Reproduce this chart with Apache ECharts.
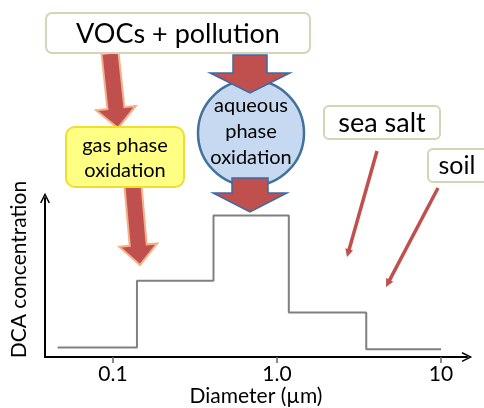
<!DOCTYPE html>
<html>
<head>
<meta charset="utf-8">
<script src="https://cdn.jsdelivr.net/npm/echarts@6/dist/echarts.min.js"></script>
<style>html,body{margin:0;padding:0;background:#fff}#c{width:484px;height:408px}</style>
</head>
<body>
<div id="c"></div>
<script>
// ---- data ----
var binEdges = [0.046, 0.14, 0.41, 1.18, 3.5, 10];      // particle diameter bin edges (µm)
var dcaConc  = [6, 48, 89, 28, 5];                       // relative DCA concentration per bin
var tickValues = [0.1, 1, 10];
var tickLabels = ['0.1', '1.0', '10'];
var xAxisTitle = 'Diameter (\u00b5m)';
var yAxisTitle = 'DCA concentration';
var labelTop = 'VOCs + pollution';
var labelGas = 'gas phase\noxidation';
var labelAq = 'aqueous\nphase\noxidation';
var labelSea = 'sea salt';
var labelSoil = 'soil';

// build step data
var stepData = [];
for (var i = 0; i < dcaConc.length; i++) stepData.push([binEdges[i], dcaConc[i]]);
stepData.push([binEdges[binEdges.length - 1], dcaConc[dcaConc.length - 1]]);

var FONT = 'Lato, "Open Sans", sans-serif';
var RED = '#c0504d';
var CHEVRON = 'path://M0,10 L5,0 L10,10 L8.6,10.6 L5,3.2 L1.4,10.6 Z';

function blockArrow(x1, y1, x2, y2, w, hw, hl, stroke, lw) {
  var dx = x2 - x1, dy = y2 - y1, L = Math.sqrt(dx*dx + dy*dy);
  var ux = dx / L, uy = dy / L, nx = -uy, ny = ux;
  var bx = x2 - ux * hl, by = y2 - uy * hl;
  var pts = [
    [x1 + nx*w/2, y1 + ny*w/2],
    [bx + nx*w/2, by + ny*w/2],
    [bx + nx*hw/2, by + ny*hw/2],
    [x2, y2],
    [bx - nx*hw/2, by - ny*hw/2],
    [bx - nx*w/2, by - ny*w/2],
    [x1 - nx*w/2, y1 - ny*w/2]
  ];
  return { type: 'polygon', shape: { points: pts }, style: { fill: RED, stroke: stroke, lineWidth: lw, lineJoin: 'miter' }, z: 10 };
}
function lineArrow(x1, y1, x2, y2) {
  var dx = x2 - x1, dy = y2 - y1, L = Math.sqrt(dx*dx + dy*dy);
  var ux = dx / L, uy = dy / L, nx = -uy, ny = ux;
  var hl = 8, hw = 8;
  var bx = x2 - ux*hl, by = y2 - uy*hl;
  return [
    { type: 'line', shape: { x1: x1, y1: y1, x2: bx + ux*2, y2: by + uy*2 }, style: { stroke: RED, lineWidth: 3.5 }, z: 10 },
    { type: 'polygon', shape: { points: [[x2, y2], [bx + nx*hw/2, by + ny*hw/2], [bx - nx*hw/2, by - ny*hw/2]] }, style: { fill: RED }, z: 10 }
  ];
}
function box(x, y, w, h, r, fill, stroke, lw) {
  return { type: 'rect', shape: { x: x, y: y, width: w, height: h, r: r }, style: { fill: fill, stroke: stroke, lineWidth: lw }, z: 11 };
}
function txt(s, x, y, size, lh) {
  return { type: 'text', style: { text: s, x: x, y: y, fill: '#000', font: size + 'px ' + FONT, align: 'center', verticalAlign: 'middle', lineHeight: lh || size }, z: 12 };
}

var elements = [];
// top box
elements.push(box(46, 13, 264, 40, 6, '#fff', '#d6d3b8', 2));
elements.push(txt(labelTop, 178, 34, 27));
// gas phase arrows & box
elements.push(blockArrow(110, 53, 118, 128, 17, 40, 20, '#f4b08a', 2));
elements.push(blockArrow(133, 186, 140, 265, 17, 38, 20, '#f4b08a', 2));
elements.push(box(66, 127, 118, 60, 9, '#ffff84', '#f2dc30', 2));
elements.push(txt(labelGas, 125, 158, 20, 25));
// aqueous circle & arrows
elements.push({ type: 'circle', shape: { cx: 251, cy: 133, r: 53 }, style: { fill: '#c6d9f1', stroke: '#41719c', lineWidth: 2.5 }, z: 11 });
var a1 = blockArrow(250, 55, 250, 93, 34, 80, 20, '#3d6aa8', 1.5); a1.z = 13;
var a2 = blockArrow(250, 178, 250, 212, 36, 74, 19, '#3d6aa8', 1.5); a2.z = 13;
elements.push(a1, a2);
elements.push(Object.assign(txt(labelAq, 251, 132, 20, 26), { z: 14 }));
// sea salt & soil
elements.push(box(324, 106, 116, 33, 5, '#fff', '#d6d3b8', 2));
elements.push(txt(labelSea, 382, 123, 27));
elements.push(box(428, 149, 60, 33, 5, '#fff', '#d6d3b8', 2));
elements.push(txt(labelSoil, 457, 166, 25));
elements = elements.concat(lineArrow(377, 151, 347, 257));
elements = elements.concat(lineArrow(438, 188, 386, 287));

var chart = echarts.init(document.getElementById('c'));
chart.setOption({
  animation: false,
  grid: { left: 45, right: 17, top: 198, bottom: 47, containLabel: false },
  xAxis: {
    type: 'log', logBase: 10, min: 0.0385, max: 14.4,
    name: xAxisTitle, nameLocation: 'middle', nameGap: 24,
    nameTextStyle: { fontFamily: FONT, fontSize: 21, color: '#000' },
    axisLine: { show: true, symbol: ['none', CHEVRON], symbolSize: [10, 12], symbolOffset: [0, 0], lineStyle: { color: '#000', width: 2 } },
    axisTick: { show: true, length: 6, customValues: tickValues, lineStyle: { color: '#666', width: 1.5 } },
    axisLabel: { customValues: tickValues, margin: 7, fontFamily: FONT, fontSize: 21, color: '#000',
      formatter: function (v) { var k = -1; for (var j = 0; j < tickValues.length; j++) if (Math.abs(tickValues[j] - v) < 1e-9) k = j; return k >= 0 ? tickLabels[k] : ''; } },
    splitLine: { show: false }
  },
  yAxis: {
    type: 'value', min: 0, max: 100,
    name: yAxisTitle, nameLocation: 'middle', nameGap: 15, nameRotate: 90,
    nameTextStyle: { fontFamily: FONT, fontSize: 21, color: '#000', padding: [0, 0, 0, 16] },
    axisLine: { show: true, symbol: ['none', CHEVRON], symbolSize: [10, 12], lineStyle: { color: '#000', width: 2 } },
    axisTick: { show: false }, axisLabel: { show: false }, splitLine: { show: false }
  },
  series: [{
    type: 'line', step: 'end', data: stepData, symbol: 'none',
    lineStyle: { color: '#808080', width: 2 }
  }],
  graphic: { elements: elements }
});
</script>
</body>
</html>
